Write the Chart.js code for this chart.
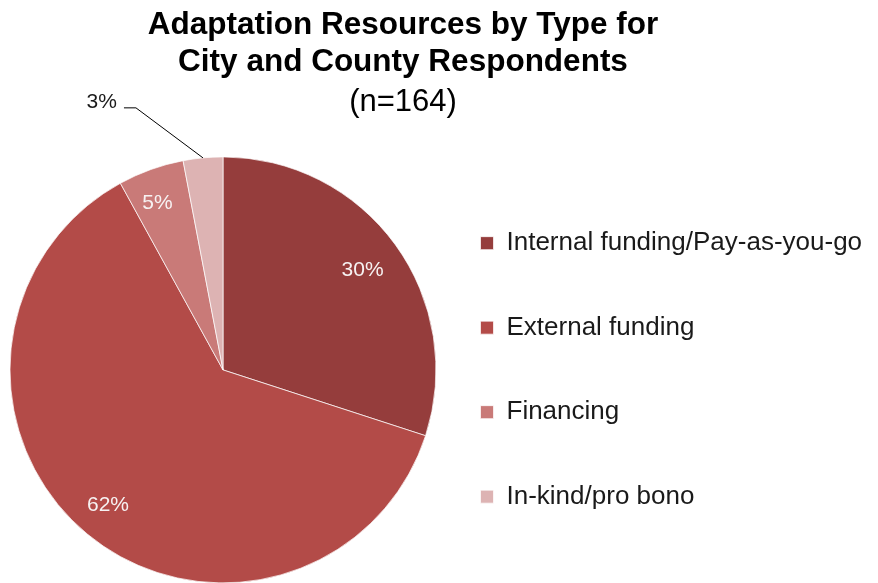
<!DOCTYPE html>
<html><head><meta charset="utf-8">
<script src="https://cdn.jsdelivr.net/npm/chart.js@4/dist/chart.umd.min.js"></script>
<style>html,body{margin:0;padding:0;background:#fff}#wrap{width:878px;height:583px;position:relative}</style>
</head><body><div id="wrap"><canvas id="c"></canvas></div>
<script>
const categories = ['Internal funding/Pay-as-you-go', 'External funding', 'Financing', 'In-kind/pro bono'];
const values = [30, 62, 5, 3];
const sliceColors = ['#953d3c', '#b34b48', '#c97a78', '#ddb3b3'];
const titleLines = ['Adaptation Resources by Type for', 'City and County Respondents'];
const subtitleText = '(n=164)';
const FONT = "'Liberation Sans', Arial, Helvetica, sans-serif";

const labelPlugin = {
  id: 'sliceLabels',
  afterDatasetsDraw(chart) {
    const ctx = chart.ctx;
    const meta = chart.getDatasetMeta(0);
    const total = values.reduce((a, b) => a + b, 0);
    ctx.save();
    ctx.font = '21px ' + FONT;
    meta.data.forEach((arc, i) => {
      const pct = Math.round(values[i] / total * 100) + '%';
      const mid = (arc.startAngle + arc.endAngle) / 2;
      const R = arc.outerRadius;
      if (values[i] / total < 0.04) {
        const ex = arc.x + Math.cos(mid) * R, ey = arc.y + Math.sin(mid) * R;
        const kx = ex - 67, ky = ey - 50;
        ctx.strokeStyle = '#000'; ctx.lineWidth = 1;
        ctx.beginPath(); ctx.moveTo(ex, ey); ctx.lineTo(kx, ky); ctx.lineTo(kx - 12, ky); ctx.stroke();
        ctx.fillStyle = '#1a1a1a'; ctx.textAlign = 'right'; ctx.textBaseline = 'alphabetic';
        ctx.fillText(pct, kx - 19, ky);
      } else {
        const r = R * (values[i] / total < 0.1 ? 0.84 : 0.81);
        const lx = arc.x + Math.cos(mid) * r, ly = arc.y + Math.sin(mid) * r;
        ctx.fillStyle = '#f7f2f2'; ctx.textAlign = 'center'; ctx.textBaseline = 'middle';
        ctx.fillText(pct, lx + (Math.cos(mid) < 0 ? -5 : 0), ly + 2);
      }
    });
    ctx.restore();
  }
};

// place title block and legend as in the reference after Chart.js has laid out the pie
const placementPlugin = {
  id: 'placement',
  afterLayout(chart) {
    chart.boxes.forEach(b => {
      if (b.options && b.options.position === 'top' && typeof b._drawArgs === 'function') {
        b.right = 2 * 403 - b.left;
        b.width = b.right - b.left;
      }
    });
    const lg = chart.legend;
    if (lg) {
      lg.left = 422;
      lg.right = chart.width;
      lg.width = lg.right - lg.left;
    }
  }
};

new Chart(document.getElementById('c'), {
  type: 'pie',
  data: {
    labels: categories,
    datasets: [{
      data: values,
      backgroundColor: sliceColors,
      borderColor: 'rgba(255,255,255,0.7)',
      borderWidth: 1,
      radius: 213,
      clip: false
    }]
  },
  options: {
    responsive: true,
    maintainAspectRatio: false,
    animation: false,
    layout: { padding: { left: 0, right: 32, top: 0, bottom: 0 } },
    plugins: {
      title: {
        display: true, text: titleLines, color: '#000',
        font: { family: FONT, size: 31.5, weight: 'bold', lineHeight: 1.2 },
        padding: { top: 6, bottom: 0 }
      },
      subtitle: {
        display: true, text: subtitleText, color: '#000',
        font: { family: FONT, size: 31, weight: 'normal', lineHeight: 1.2 },
        padding: { top: 2, bottom: 36 }
      },
      legend: {
        position: 'right',
        fullSize: false,
        maxWidth: 400,
        labels: {
          boxWidth: 13, boxHeight: 13, padding: 58.5, color: '#1a1a1a',
          font: { family: FONT, size: 26 }
        }
      },
      tooltip: { enabled: false }
    }
  },
  plugins: [labelPlugin, placementPlugin]
});
</script></body></html>
